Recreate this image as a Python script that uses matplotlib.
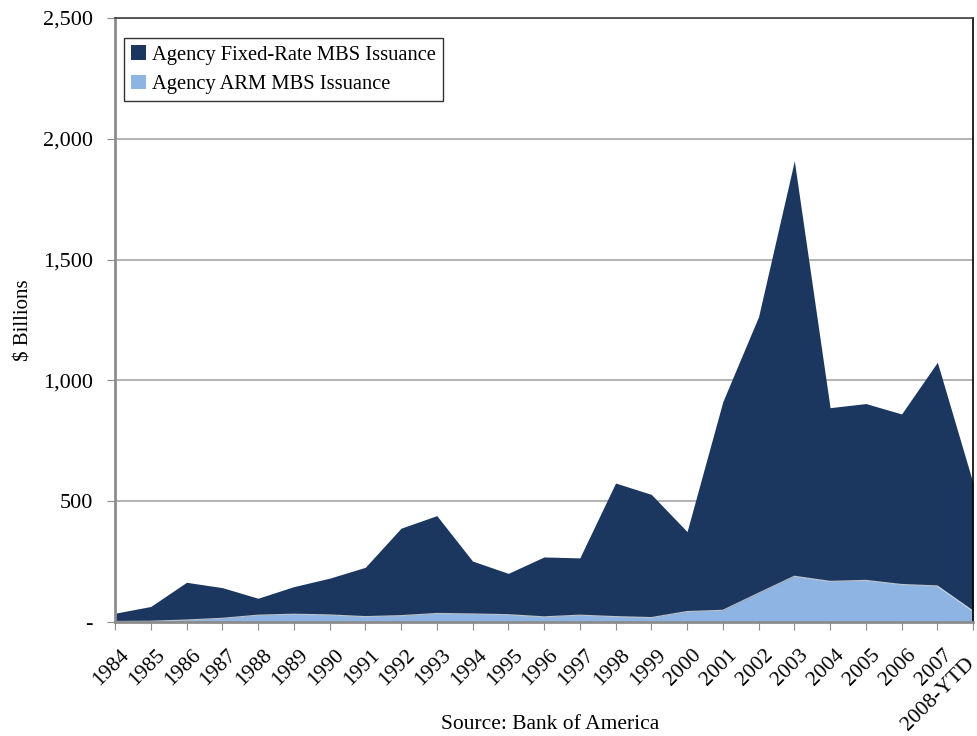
import numpy as np
import matplotlib
matplotlib.use("Agg")
import matplotlib.pyplot as plt
import matplotlib.transforms as mtransforms
from matplotlib.ticker import FuncFormatter
from matplotlib.patches import Patch

plt.rcParams['font.family'] = ['Liberation Serif', 'DejaVu Serif']

years = ['1984', '1985', '1986', '1987', '1988', '1989', '1990', '1991', '1992',
         '1993', '1994', '1995', '1996', '1997', '1998', '1999', '2000', '2001',
         '2002', '2003', '2004', '2005', '2006', '2007', '2008-YTD']

# $ billions
total = [36, 64, 164, 142, 98, 146, 181, 226, 388, 440, 252, 201, 269, 265,
         575, 528, 374, 912, 1264, 1909, 887, 904, 861, 1075, 574]
arm = [2, 3, 8, 15, 28, 32, 29, 22, 26, 35, 33, 30, 21, 28, 22, 18, 43, 48,
       119, 189, 168, 172, 155, 149, 45]
fixed = [t - a for t, a in zip(total, arm)]

dark = '#1b375f'
light = '#8eb4e3'

fig = plt.figure(figsize=(9.77, 7.36), dpi=100)
ax = fig.add_axes([0.1177, 0.155, 0.8783, 0.8205])

x = np.arange(len(years))
ax.fill_between(x, 0, arm, color=light, linewidth=0, zorder=3)
ax.fill_between(x, arm, np.array(arm) + np.array(fixed), color=dark,
                linewidth=0, zorder=3)
ax.plot(x, arm, color='white', linewidth=0.8, alpha=0.7, zorder=4)

ax.set_xlim(0, len(years) - 1)
ax.set_ylim(0, 2500)
ax.set_yticks(np.arange(0, 2501, 500))
ax.yaxis.set_major_formatter(FuncFormatter(lambda v, p: '-' if v == 0 else f'{int(v):,}'))
ax.grid(axis='y', color='#a6a6a6', linewidth=1.2, zorder=1)

ax.set_xticks(x)
ax.set_xticklabels(years, rotation=45, ha='right', rotation_mode='anchor')
ax.tick_params(axis='x', length=6, color='#8c8c8c', labelsize=15.5, pad=11)
ax.tick_params(axis='y', length=6, color='#8c8c8c', labelsize=16, pad=10)
# nudge rotated labels so they end just right of their tick;
# the last one slides down along its own slant so it stays on the page
labels = ax.get_xticklabels()
for i, lab in enumerate(labels):
    dx, dy = (3.5, 0) if i < len(labels) - 1 else (-6, -6)
    shift = mtransforms.ScaledTranslation(dx / 72, dy / 72, fig.dpi_scale_trans)
    lab.set_transform(lab.get_transform() + shift)

for s in ['left', 'bottom']:
    ax.spines[s].set_color('#8c8c8c')
    ax.spines[s].set_linewidth(2)
ax.spines['top'].set_color('#404040')
ax.spines['top'].set_linewidth(1.2)
ax.spines['right'].set_color('black')
ax.spines['right'].set_linewidth(1.2)
for s in ax.spines.values():
    s.set_zorder(5)

ax.set_ylabel('$ Billions', fontsize=15, labelpad=7)
fig.text(0.563, 0.016, 'Source: Bank of America', ha='center', va='center', fontsize=15.5)

handles = [Patch(facecolor=dark, label='Agency Fixed-Rate MBS Issuance'),
           Patch(facecolor=light, label='Agency ARM MBS Issuance')]
leg = ax.legend(handles=handles, loc='upper left', bbox_to_anchor=(0.0105, 0.967),
                fontsize=14.8, frameon=True, fancybox=False, edgecolor='black',
                handlelength=0.7, handleheight=0.7, handletextpad=0.3,
                borderpad=0.35, labelspacing=0.5, borderaxespad=0)
leg.get_frame().set_linewidth(1.0)

fig.savefig('out.png', dpi=100)
